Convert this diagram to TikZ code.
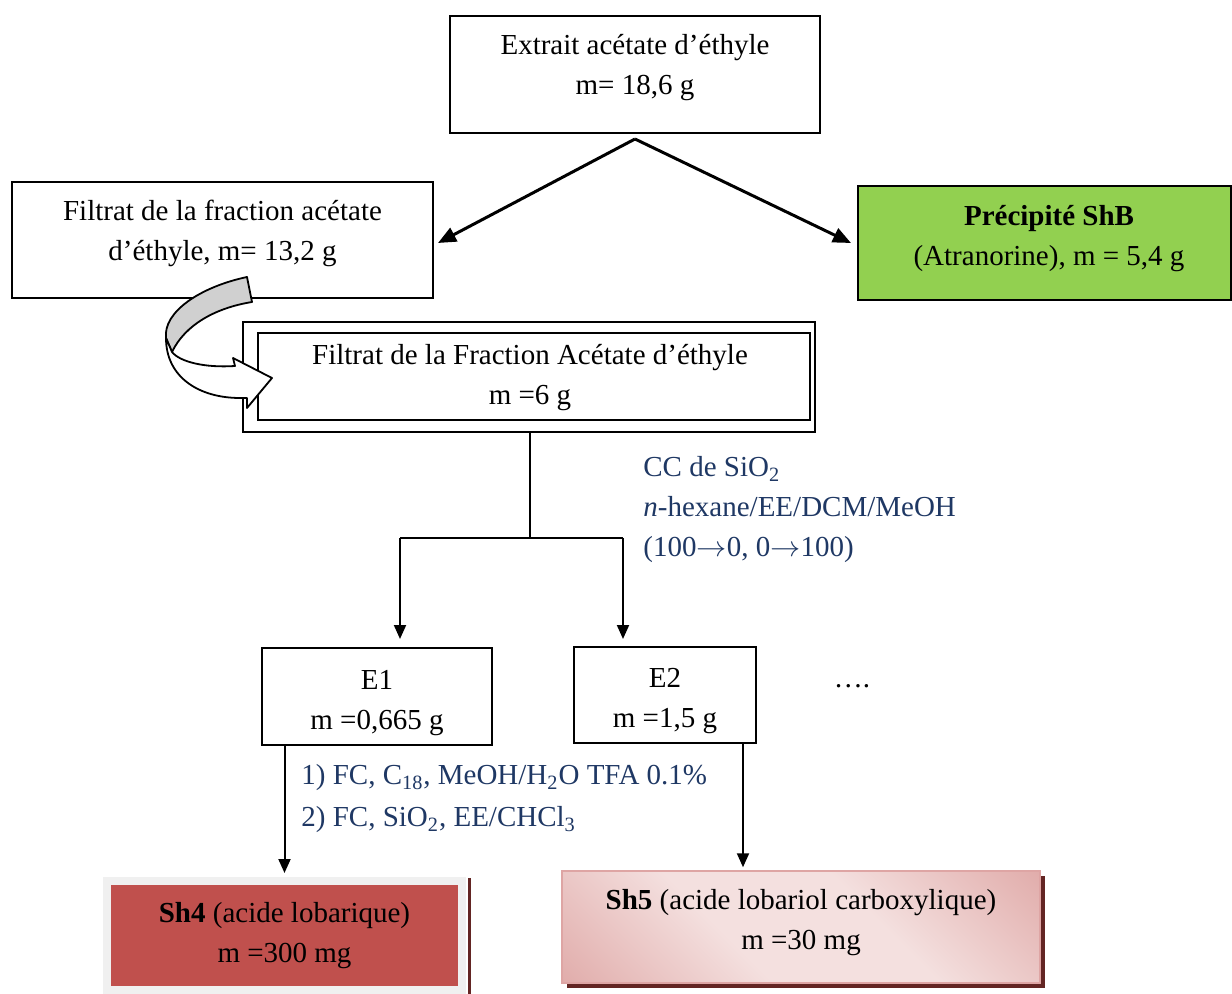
\documentclass[tikz,border=0pt]{standalone}
\usepackage{fontspec}
\usepackage{graphicx}
\setmainfont{Liberation Serif}
\usetikzlibrary{arrows.meta,calc,shadings,shadows}
\definecolor{annot}{RGB}{31,56,100}
\definecolor{green1}{RGB}{146,208,80}
\definecolor{red1}{RGB}{192,80,77}
\definecolor{pinkd}{RGB}{214,143,141}
\definecolor{pinkl}{RGB}{244,224,223}
\definecolor{shadowred}{RGB}{99,37,35}
\definecolor{lgray}{RGB}{240,240,240}
\definecolor{arrgray}{RGB}{208,208,208}
\pgfdeclarehorizontalshading{pinkdiag}{100bp}{color(0bp)=(pinkd); color(40bp)=(pinkl); color(60bp)=(pinkl); color(100bp)=(pinkd)}
\newcommand{\rarr}{\scalebox{1.05}[1]{$\rightarrow$}}
\tikzset{
  box/.style={draw, line width=1pt, inner sep=0pt},
  txt/.style={font=\fontsize{14.5pt}{20pt}\selectfont, align=center, inner sep=0pt},
  ann/.style={font=\fontsize{14.5pt}{20pt}\selectfont, align=left, inner sep=0pt, text=annot},
  arr/.style={-{Triangle[length=7pt,width=6pt]}, line width=1pt},
  fork/.style={-{Triangle[length=9pt,width=7.5pt]}, line width=1.5pt},
}
\begin{document}
\begin{tikzpicture}[x=0.5pt,y=-0.5pt]
\useasboundingbox (0,0) rectangle (1232,994);

% top box
\node[box, minimum width=185pt, minimum height=58.5pt] (top) at (635,74.5) {};
\node[txt] (toptxt) at (635,68) {Extrait acétate d’éthyle\\m= 18,6 g};

% filtrat box
\node[box, minimum width=210.5pt, minimum height=58pt] (filt) at (222.5,240) {};
\node[txt] (filttxt) at (222.5,233) {Filtrat de la fraction acétate\\d’éthyle, m= 13,2 g};

% precipite box
\node[box, fill=green1, minimum width=186.5pt, minimum height=57pt] (prec) at (1044.5,243) {};
\node[txt] (prectxt) at (1049,238.5) {\textbf{Précipité ShB}\\(Atranorine), m = 5,4 g};

% fork
\coordinate (apex) at ([yshift=-2.5pt]top.south);
\draw[fork] (apex) -- ([xshift=2pt,yshift=-1.5pt]filt.east);
\draw[fork] (apex) -- ([xshift=-3pt]prec.west);

% double box
\node[draw, line width=0.75pt, inner sep=0pt, minimum width=286pt, minimum height=55pt] (dblo) at (529,377) {};
\node[box, minimum width=276pt, minimum height=43.5pt] (dbli) at (534,376.5) {};
\node[txt] (dbltxt) at (530,378) {Filtrat de la Fraction Acétate d’éthyle\\m =6 g};

% E boxes
\node[box, minimum width=115pt, minimum height=48.5pt] (E1) at (377,696.5) {};
\node[txt] (E1txt) at (377,703) {E1\\m =0,665 g};
\node[box, minimum width=91pt, minimum height=48pt] (E2) at (665,695) {};
\node[txt] (E2txt) at (665,701.5) {E2\\m =1,5 g};
\node[txt] (dots) at (852,686) {….};

% split
\coordinate (split) at (530,538);
\coordinate (jl) at (400,538);
\coordinate (jr) at (623,538);
\draw[line width=1pt] (split |- dblo.south) -- (split);
\draw[line width=1pt] (jl) -- (jr);
\draw[arr, shorten >=4pt] (jl) -- (jl |- E1.north);
\draw[arr, shorten >=3.5pt] (jr) -- (jr |- E2.north);

\node[ann, anchor=west] (cc) at (643,510) {CC de SiO\textsubscript{2}\\\textit{n}-hexane/EE/DCM/MeOH\\(100\rarr 0, 0\rarr 100)};

% final boxes
\node[draw=lgray, line width=4pt, fill=red1, inner sep=0pt, minimum width=177.5pt, minimum height=54.5pt] (sh4) at (284.5,935.5) {};
\draw[shadowred, line width=1.5pt] ($(sh4.north east)+(3,1)$) -- ($(sh4.south east)+(3,8)$);
\node[txt] (sh4txt) at (284.5,935.5) {\textbf{Sh4} (acide lobarique)\\m =300 mg};

\node[draw=pinkd!80, line width=0.75pt, inner sep=0pt, shade, shading=pinkdiag, shading angle=45,
      general shadow={fill=shadowred, shadow xshift=2.5pt, shadow yshift=-2.5pt},
      minimum width=239pt, minimum height=56pt] (sh5) at (801,927) {};
\node[txt] (sh5txt) at (801,923) {\textbf{Sh5} (acide lobariol carboxylique)\\m =30 mg};

\draw[arr, shorten >=2pt] (sh4.north |- E1.south) -- (sh4.north);
\coordinate (e2a) at ($(E2.south east)+(-14,0)$);
\draw[arr, shorten >=1.5pt] (e2a) -- (e2a |- sh5.north);

\node[ann, anchor=west, font=\fontsize{14.5pt}{21pt}\selectfont] (fc) at (301,799) {1) FC, C\textsubscript{18}, MeOH/H\textsubscript{2}O TFA 0.1\%\\2) FC, SiO\textsubscript{2}, EE/CHCl\textsubscript{3}};

% curved block arrow
\draw[line width=0.9pt, fill=arrgray, line join=round]
  (247,277) .. controls (200,287) and (163,312) .. (166,338)
  -- (172,352) .. controls (185,325) and (215,308) .. (252,302) -- cycle;
\draw[line width=0.9pt, fill=white, line join=round]
  (166,338) .. controls (166,378) and (200,398) .. (240,398)
  -- (247,398) -- (247,408) -- (272,378) -- (233,358) -- (235,366)
  .. controls (205,368) and (180,362) .. (172,352) -- cycle;
\end{tikzpicture}
\end{document}
